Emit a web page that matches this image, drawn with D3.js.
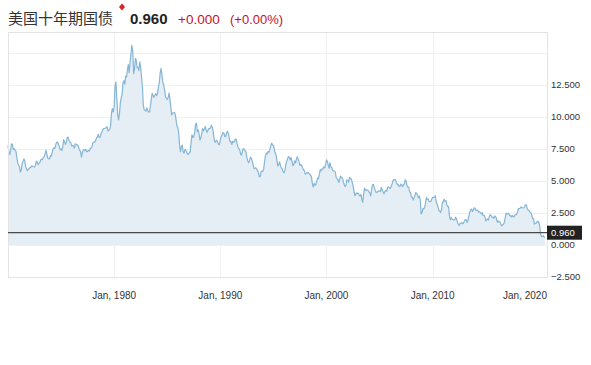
<!DOCTYPE html>
<html>
  <head>
    <meta charset="utf-8">
    <script src="https://cdn.jsdelivr.net/npm/d3@7"></script>
    <style>
      html, body { margin: 0; padding: 0; background: #fff; }
      svg { display: block; font-family: Arial, "Liberation Sans", sans-serif; }
    </style>
  </head>
  <body>
    <svg width="591" height="365"></svg>
    <script>
      // monthly 10y yield, starting Jan 1970
      const startYear = 1970;
      const yields = [
        7.79, 7.24, 7.07, 7.39, 7.91, 7.84, 7.46, 7.53, 7.39, 7.33, 6.84, 6.39,
        6.24, 6.11, 5.70, 5.83, 6.39, 6.52, 6.73, 6.58, 6.14, 5.93, 5.81, 5.93,
        5.95, 6.08, 6.07, 6.19, 6.13, 6.11, 6.11, 6.21, 6.55, 6.48, 6.28, 6.36,
        6.46, 6.64, 6.71, 6.67, 6.85, 6.90, 7.13, 7.40, 7.09, 6.79, 6.73, 6.74,
        6.99, 6.96, 7.21, 7.51, 7.58, 7.54, 7.81, 8.04, 8.04, 7.90, 7.68, 7.43,
        7.50, 7.39, 7.73, 8.23, 8.06, 7.86, 8.06, 8.40, 8.43, 8.14, 8.05, 8.00,
        7.74, 7.79, 7.73, 7.56, 7.90, 7.86, 7.83, 7.77, 7.59, 7.41, 7.29, 6.87,
        7.21, 7.39, 7.46, 7.37, 7.46, 7.28, 7.33, 7.40, 7.34, 7.52, 7.58, 7.69,
        8.01, 8.03, 8.04, 8.15, 8.35, 8.46, 8.64, 8.41, 8.42, 8.64, 8.81, 9.01,
        9.10, 9.10, 9.12, 9.18, 9.25, 8.91, 8.95, 9.03, 9.33, 10.30, 10.65, 10.39,
        10.80, 12.41, 12.75, 11.47, 10.18, 9.78, 10.25, 11.10, 11.51, 11.75, 12.68, 12.84,
        12.57, 13.19, 13.12, 13.68, 14.10, 13.47, 14.28, 14.94, 15.60, 15.15, 13.39, 13.72,
        14.59, 14.43, 13.86, 13.87, 13.62, 14.30, 13.95, 13.06, 12.34, 10.91, 10.55, 10.54,
        10.46, 10.72, 10.51, 10.40, 10.38, 10.85, 11.38, 11.85, 11.65, 11.54, 11.69, 11.83,
        11.67, 11.84, 12.32, 12.63, 13.41, 13.80, 13.36, 12.72, 12.52, 12.16, 11.57, 11.50,
        11.38, 11.51, 11.86, 11.43, 10.85, 10.16, 10.31, 10.33, 10.37, 10.24, 9.78, 9.26,
        9.19, 8.70, 7.78, 7.30, 7.71, 7.80, 7.30, 7.17, 7.45, 7.43, 7.25, 7.11,
        7.08, 7.25, 7.25, 8.02, 8.61, 8.40, 8.45, 8.76, 9.42, 9.52, 8.86, 8.99,
        8.67, 8.21, 8.37, 8.72, 9.09, 8.92, 9.06, 9.26, 8.98, 8.80, 8.96, 9.11,
        9.09, 9.17, 9.36, 9.18, 8.86, 8.28, 8.02, 8.11, 8.19, 8.01, 7.87, 7.84,
        8.21, 8.47, 8.59, 8.79, 8.76, 8.48, 8.47, 8.75, 8.89, 8.72, 8.39, 8.08,
        8.09, 7.85, 8.11, 8.04, 8.07, 8.28, 8.27, 7.90, 7.65, 7.53, 7.42, 7.09,
        7.03, 7.34, 7.54, 7.48, 7.39, 7.26, 6.84, 6.59, 6.42, 6.59, 6.87, 6.77,
        6.60, 6.26, 5.98, 5.97, 6.04, 5.96, 5.81, 5.68, 5.36, 5.33, 5.72, 5.77,
        5.75, 5.97, 6.48, 6.97, 7.18, 7.10, 7.30, 7.24, 7.46, 7.74, 7.96, 7.81,
        7.78, 7.47, 7.20, 7.06, 6.63, 6.17, 6.28, 6.49, 6.20, 6.04, 5.93, 5.71,
        5.65, 5.81, 6.27, 6.51, 6.74, 6.91, 6.87, 6.64, 6.83, 6.53, 6.20, 6.30,
        6.58, 6.42, 6.69, 6.89, 6.71, 6.49, 6.22, 6.30, 6.21, 6.03, 5.88, 5.81,
        5.54, 5.57, 5.65, 5.64, 5.65, 5.50, 5.46, 5.34, 4.81, 4.53, 4.83, 4.65,
        4.72, 5.00, 5.23, 5.18, 5.54, 5.90, 5.79, 5.94, 5.92, 6.11, 6.03, 6.28,
        6.66, 6.52, 6.26, 5.99, 6.44, 6.10, 6.05, 5.83, 5.80, 5.74, 5.72, 5.24,
        5.16, 5.10, 4.89, 5.14, 5.39, 5.28, 5.24, 4.97, 4.73, 4.57, 4.65, 5.09,
        5.04, 4.91, 5.28, 5.21, 5.16, 4.93, 4.65, 4.26, 3.87, 3.94, 4.05, 4.03,
        4.05, 3.90, 3.81, 3.96, 3.57, 3.33, 3.98, 4.45, 4.27, 4.29, 4.30, 4.27,
        4.15, 4.08, 3.83, 4.35, 4.72, 4.73, 4.50, 4.28, 4.13, 4.10, 4.19, 4.23,
        4.22, 4.17, 4.50, 4.34, 4.14, 4.00, 4.18, 4.26, 4.20, 4.46, 4.54, 4.47,
        4.42, 4.57, 4.72, 4.99, 5.11, 5.11, 5.09, 4.88, 4.72, 4.73, 4.60, 4.56,
        4.76, 4.72, 4.56, 4.69, 4.75, 5.10, 5.00, 4.67, 4.52, 4.53, 4.15, 4.10,
        3.74, 3.74, 3.51, 3.68, 3.88, 4.10, 4.01, 3.89, 3.69, 3.81, 3.53, 2.42,
        2.52, 2.87, 2.82, 2.93, 3.29, 3.72, 3.56, 3.59, 3.40, 3.39, 3.40, 3.59,
        3.73, 3.69, 3.73, 3.85, 3.42, 3.20, 3.01, 2.70, 2.65, 2.54, 2.76, 3.29,
        3.39, 3.58, 3.41, 3.46, 3.17, 3.00, 3.00, 2.30, 1.98, 2.15, 2.01, 1.98,
        1.97, 1.97, 2.17, 2.05, 1.80, 1.62, 1.53, 1.68, 1.72, 1.75, 1.65, 1.72,
        1.91, 1.98, 1.96, 1.76, 1.93, 2.30, 2.58, 2.74, 2.81, 2.62, 2.72, 2.90,
        2.86, 2.71, 2.72, 2.71, 2.56, 2.60, 2.54, 2.42, 2.53, 2.30, 2.33, 2.21,
        1.88, 1.98, 2.04, 1.94, 2.20, 2.36, 2.32, 2.17, 2.17, 2.07, 2.26, 2.24,
        2.09, 1.78, 1.89, 1.81, 1.81, 1.64, 1.50, 1.56, 1.63, 1.76, 2.14, 2.49,
        2.43, 2.42, 2.48, 2.30, 2.30, 2.19, 2.32, 2.21, 2.20, 2.36, 2.35, 2.40,
        2.58, 2.86, 2.84, 2.87, 2.98, 2.91, 2.89, 2.89, 3.00, 3.15, 3.12, 2.83,
        2.71, 2.68, 2.57, 2.53, 2.40, 2.07, 2.06, 1.63, 1.70, 1.71, 1.81, 1.86,
        1.76, 1.50, 0.87, 0.66, 0.67, 0.73, 0.62, 0.60
      ];
      const yTicks = [-2.5, 0, 2.5, 5, 7.5, 10, 12.5];
      const gridValues = [-2.5, 0, 2.5, 5, 7.5, 10, 12.5, 15];
      const xTickYears = [1980, 1990, 2000, 2010, 2020];
      const title = "美国十年期国债";
      const lastValue = 0.960;
      const change = "+0.000";
      const changePct = "(+0.00%)";

      const data = yields.map((v, i) => ({ date: new Date(startYear, i, 1), value: v }));

      const svg = d3.select("svg");
      const plotLeft = 8, plotRight = 547, plotTop = 32, plotBottom = 277;

      const x = d3.scaleTime()
        .domain([data[0].date, data[data.length - 1].date])
        .range([plotLeft, 545]);
      const y = d3.scaleLinear().domain([-2.5, 16.64]).range([plotBottom, plotTop]);

      // header
      const head = svg.append("g");
      head.append("text").attr("x", 8).attr("y", 24)
        .attr("font-family", "'Noto Sans CJK SC', sans-serif")
        .attr("font-size", 15).attr("fill", "#333").text(title);
      head.append("path")
        .attr("d", "M122,3.5 L125,7 L122,10.5 L119,7 Z")
        .attr("fill", "#d8232a");
      head.append("text").attr("x", 130).attr("y", 24)
        .attr("font-size", 15).attr("font-weight", "bold").attr("fill", "#222")
        .text(lastValue.toFixed(3));
      head.append("text").attr("x", 178).attr("y", 24)
        .attr("font-size", 13.5).attr("fill", "#c8102e").text(change);
      head.append("text").attr("x", 230).attr("y", 24)
        .attr("font-size", 13).attr("fill", "#c8102e").text(changePct);

      // grid
      const grid = svg.append("g").attr("stroke", "#f1f1f1").attr("stroke-width", 1);
      grid.selectAll("line.h").data(gridValues).join("line")
        .attr("class", "h")
        .attr("x1", plotLeft).attr("x2", plotRight)
        .attr("y1", d => Math.round(y(d)) + 0.5).attr("y2", d => Math.round(y(d)) + 0.5);
      grid.selectAll("line.v").data(xTickYears.slice(0, 4)).join("line")
        .attr("class", "v")
        .attr("y1", plotTop).attr("y2", plotBottom)
        .attr("x1", d => Math.round(x(new Date(d, 0, 1))) + 0.5)
        .attr("x2", d => Math.round(x(new Date(d, 0, 1))) + 0.5);

      // area + line
      svg.append("path").datum(data)
        .attr("fill", "#e5edf5")
        .attr("d", d3.area().x(d => x(d.date)).y0(y(0)).y1(d => y(d.value)));
      svg.append("path").datum(data)
        .attr("fill", "none")
        .attr("stroke", "#86b6d5")
        .attr("stroke-width", 1.2)
        .attr("stroke-linejoin", "round")
        .attr("d", d3.line().x(d => x(d.date)).y(d => y(d.value)));

      // border
      svg.append("rect")
        .attr("x", plotLeft + 0.5).attr("y", plotTop + 0.5)
        .attr("width", plotRight - plotLeft).attr("height", plotBottom - plotTop)
        .attr("fill", "none").attr("stroke", "#e3e3e3");

      // last value line
      svg.append("line")
        .attr("x1", plotLeft).attr("x2", plotRight)
        .attr("y1", y(lastValue)).attr("y2", y(lastValue))
        .attr("stroke", "#4a4a4a").attr("stroke-width", 1.2);

      // right axis
      svg.append("g").selectAll("text").data(yTicks).join("text")
        .attr("x", 551).attr("y", d => y(d)).attr("dy", "0.35em")
        .attr("font-size", 9.5).attr("fill", "#333")
        .text(d => d3.format(".3f")(d));

      const box = svg.append("g");
      box.append("rect")
        .attr("x", 547).attr("y", y(lastValue) - 7)
        .attr("width", 35).attr("height", 14).attr("fill", "#222");
      box.append("text")
        .attr("x", 551).attr("y", y(lastValue)).attr("dy", "0.35em")
        .attr("font-size", 9.5).attr("fill", "#fff")
        .text(lastValue.toFixed(3));

      // bottom labels
      svg.append("g").selectAll("text").data(xTickYears).join("text")
        .attr("x", d => Math.min(x(new Date(d, 0, 1)), plotRight - 22))
        .attr("y", 299)
        .attr("text-anchor", "middle")
        .attr("font-size", 10).attr("fill", "#333")
        .text(d => "Jan, " + d);
    </script>
  </body>
</html>
